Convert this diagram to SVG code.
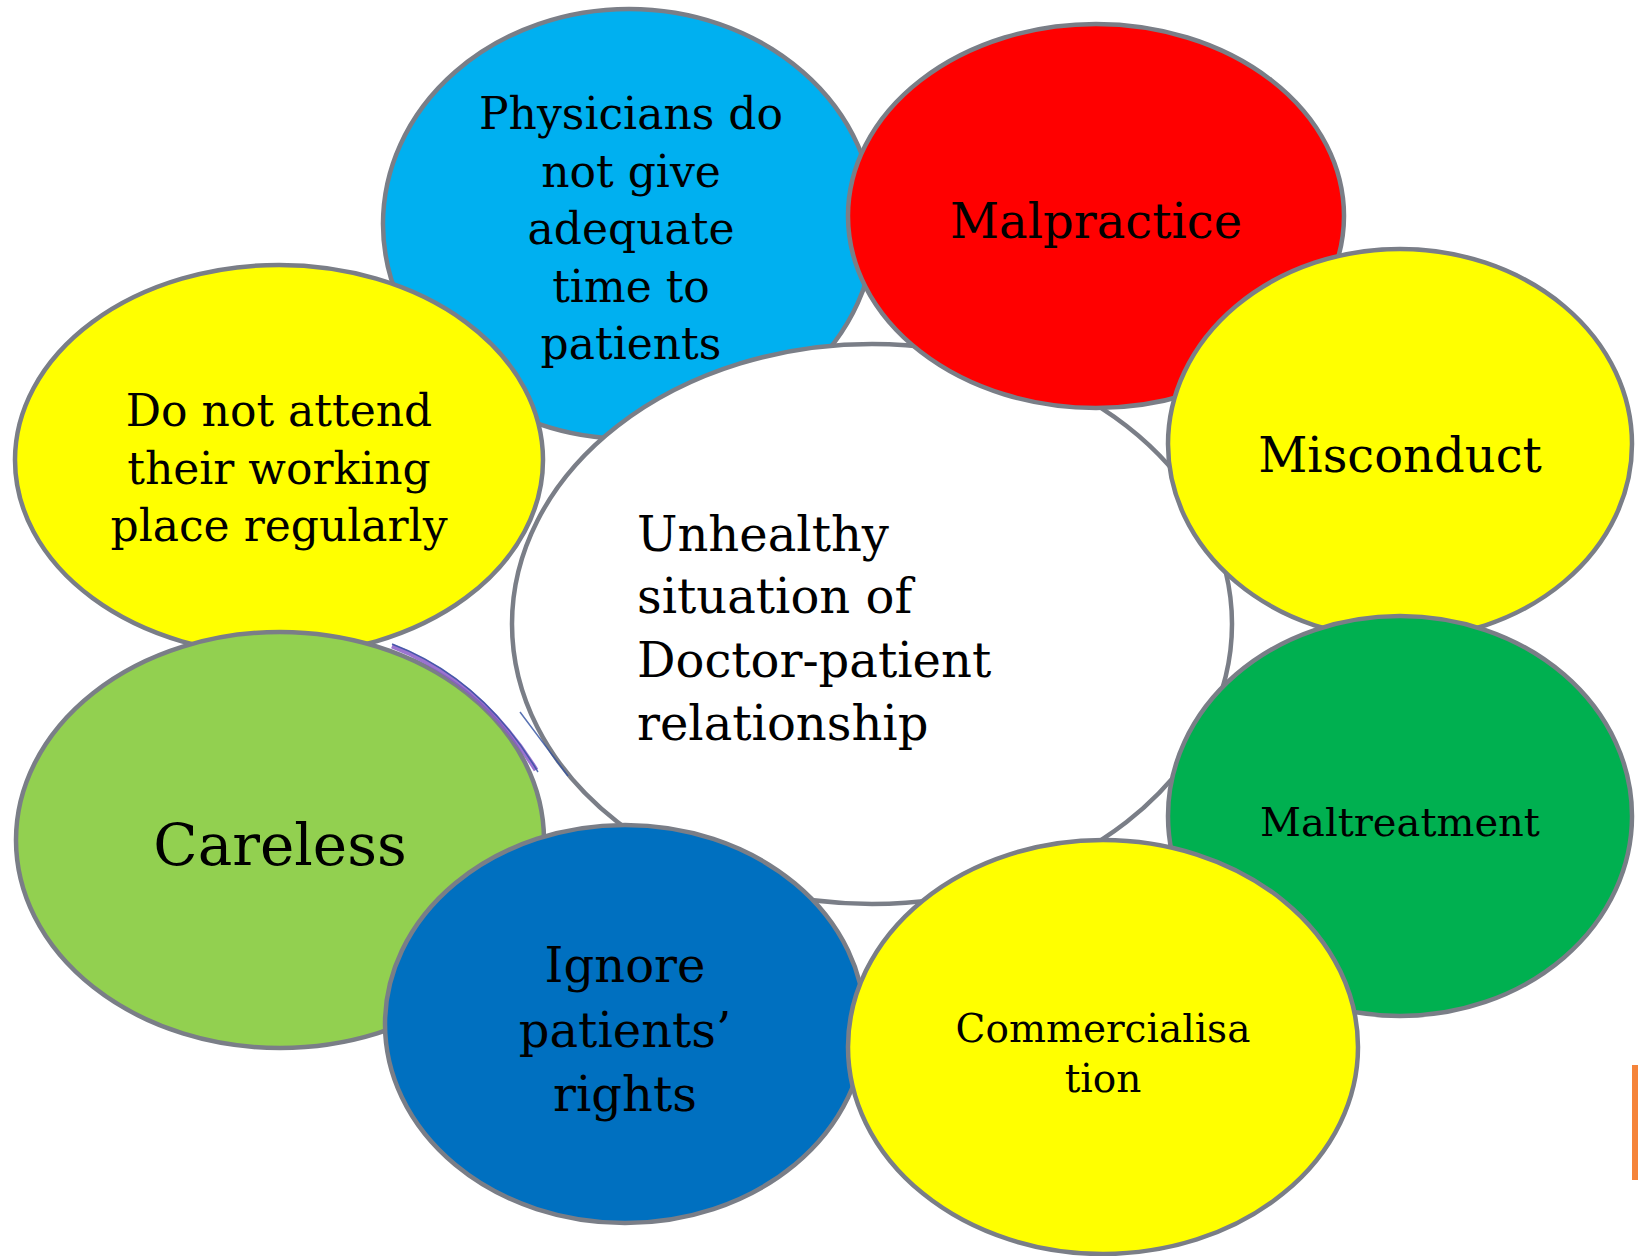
<svg xmlns="http://www.w3.org/2000/svg" width="1638" height="1256" viewBox="0 0 1638 1256">
<style>
.n{stroke:#7a7e87;stroke-width:4.5}
text{font-family:"DejaVu Serif","Liberation Serif",serif;fill:#000}
.c{text-anchor:middle}
</style>
<rect width="1638" height="1256" fill="#fff"/>
<g id="physicians"><ellipse class="n" cx="629" cy="224" rx="246" ry="215" fill="#00b0f0"/>
<text class="c" font-size="44" x="631"><tspan x="631" y="129">Physicians do</tspan><tspan x="631" y="187">not give</tspan><tspan x="631" y="244">adequate</tspan><tspan x="631" y="302">time to</tspan><tspan x="631" y="359">patients</tspan></text></g>
<g id="center"><ellipse class="n" cx="872" cy="624" rx="360" ry="280" fill="#fff"/>
<text font-size="48"><tspan x="637" y="551">Unhealthy</tspan><tspan x="637" y="613">situation of</tspan><tspan x="637" y="677">Doctor-patient</tspan><tspan x="637" y="740">relationship</tspan></text></g>
<g id="malpractice"><ellipse class="n" cx="1096" cy="216" rx="248" ry="192" fill="#ff0000"/>
<text class="c" font-size="48" x="1096" y="238">Malpractice</text></g>
<g id="misconduct"><ellipse class="n" cx="1400" cy="444" rx="232" ry="195" fill="#ffff00"/>
<text class="c" font-size="48" x="1400" y="472">Misconduct</text></g>
<g id="maltreatment"><ellipse class="n" cx="1400" cy="816" rx="232" ry="200" fill="#00b050"/>
<text class="c" font-size="40" x="1400" y="836">Maltreatment</text></g>
<g id="attend"><ellipse class="n" cx="279" cy="460" rx="264" ry="195" fill="#ffff00"/>
<text class="c" font-size="44"><tspan x="279" y="426">Do not attend</tspan><tspan x="279" y="484">their working</tspan><tspan x="279" y="541">place regularly</tspan></text></g>
<g id="careless"><ellipse class="n" cx="280" cy="840" rx="264" ry="208" fill="#92d050"/>
<text class="c" font-size="58" x="280" y="865">Careless</text></g>
<g id="ignore"><ellipse class="n" cx="625" cy="1024" rx="240" ry="199" fill="#0070c0"/>
<text class="c" font-size="48"><tspan x="625" y="982">Ignore</tspan><tspan x="625" y="1047">patients’</tspan><tspan x="625" y="1111">rights</tspan></text></g>
<g id="commercialisation"><ellipse class="n" cx="1103" cy="1047" rx="255" ry="207" fill="#ffff00"/>
<text class="c" font-size="39"><tspan x="1103" y="1042">Commercialisa</tspan><tspan x="1103" y="1092">tion</tspan></text></g>
<g id="connectors">
<path d="M392,646 Q480,680 536,770" fill="none" stroke="#8a5cc8" stroke-width="5" opacity="0.85"/>
<path d="M392,644 Q482,678 538,772 M520,712 L568,776" fill="none" stroke="#2f4f9f" stroke-width="1.5" opacity="0.8"/>
</g>
<rect x="1632" y="1065" width="6" height="115" fill="#f5843a"/>
</svg>
